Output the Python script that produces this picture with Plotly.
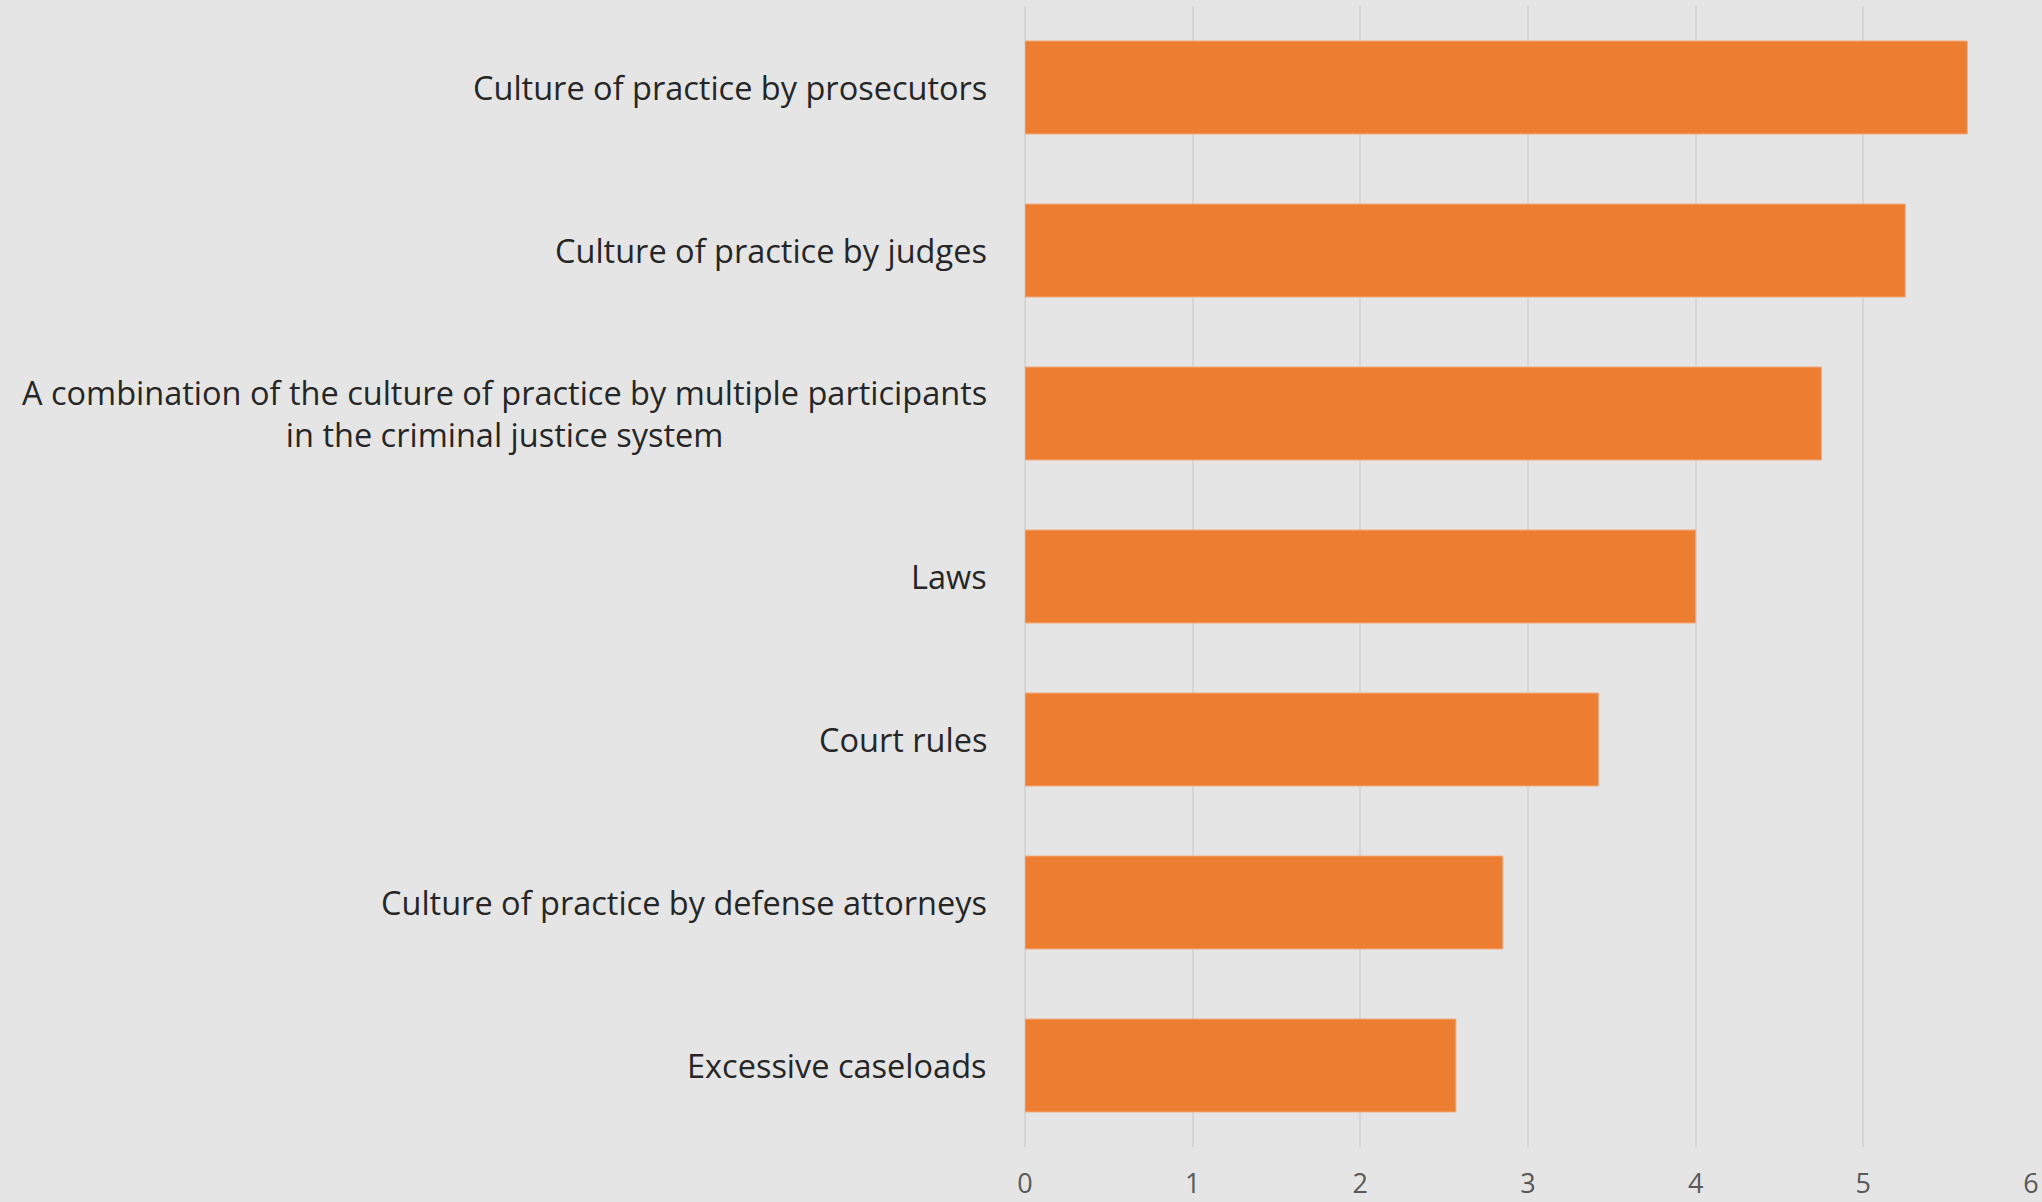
import plotly.graph_objects as go

# Categories listed top to bottom
categories = [
    "Culture of practice by prosecutors",
    "Culture of practice by judges",
    "A combination of the culture of practice by multiple participants<br>in the criminal justice system",
    "Laws",
    "Court rules",
    "Culture of practice by defense attorneys",
    "Excessive caseloads",
]
values = [5.62, 5.25, 4.75, 4.00, 3.42, 2.85, 2.57]
x_ticks = [0, 1, 2, 3, 4, 5, 6]

BG = "#E5E5E5"
BAR = "#ED7D31"
GRID = "#D6D6D6"
FONT = "Open Sans"

fig = go.Figure(
    go.Bar(
        x=values,
        y=categories,
        orientation="h",
        marker=dict(color=BAR, line=dict(color="#F3A876", width=1)),
        hoverinfo="x+y",
    )
)

# Category labels as centred multi-line annotations to the left of the axis
for cat in categories:
    fig.add_annotation(
        x=0, xref="paper", y=cat, yref="y",
        text=cat, showarrow=False,
        xanchor="right", yanchor="middle", align="center",
        xshift=-36,
        font=dict(family=FONT, size=32.5, color="#262626"),
    )

fig.update_layout(
    width=2042, height=1202,
    margin=dict(l=1025, r=11, t=6, b=55, autoexpand=False),
    paper_bgcolor=BG, plot_bgcolor=BG,
    bargap=0.43,
    showlegend=False,
    xaxis=dict(
        range=[0, 6], tickvals=x_ticks, ticktext=[str(v) for v in x_ticks],
        showgrid=True, gridcolor=GRID, gridwidth=2,
        zeroline=True, zerolinecolor=GRID, zerolinewidth=2,
        showline=False, ticks="",
        tickfont=dict(family=FONT, size=27, color="#595959"),
        ticklabelstandoff=18,
        fixedrange=True,
    ),
    yaxis=dict(
        autorange="reversed", showticklabels=False, showgrid=False,
        zeroline=False, showline=False, ticks="",
        fixedrange=True,
    ),
)

fig.write_html("out.html")
